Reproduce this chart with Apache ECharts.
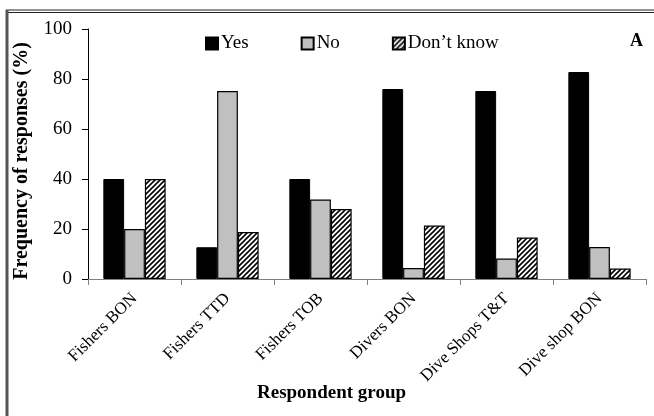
<!DOCTYPE html>
<html><head><meta charset="utf-8">
<script src="https://cdn.jsdelivr.net/npm/echarts@6/dist/echarts.min.js"></script>
<style>html,body{margin:0;padding:0;background:#fff}#c{width:654px;height:416px}</style>
</head><body><div id="c"></div>
<script>
var categories = ['Fishers BON','Fishers TTD','Fishers TOB','Divers BON','Dive Shops T&T','Dive shop BON'];
var yesValues = [40, 12.7, 40, 76, 75.2, 82.8];
var noValues = [20, 75.2, 31.8, 4.4, 8.2, 12.8];
var dkValues = [40, 18.8, 28, 21.4, 16.6, 4.2];
var yTicks = [0, 20, 40, 60, 80, 100];
var seriesNames = ['Yes','No','Don\u2019t know'];

function hatch(){
  var c = document.createElement('canvas');
  c.width = 5; c.height = 5;
  var g = c.getContext('2d');
  g.fillStyle = '#fff'; g.fillRect(0,0,5,5);
  g.strokeStyle = '#000'; g.lineWidth = 1.6;
  g.beginPath();
  g.moveTo(-1,6); g.lineTo(6,-1);
  g.moveTo(-1,1); g.lineTo(1,-1);
  g.moveTo(4,6); g.lineTo(6,4);
  g.stroke();
  return c;
}
var chart = echarts.init(document.getElementById('c'), null, {renderer:'canvas'});
var font = '"Liberation Serif","Times New Roman",serif';
chart.setOption({
  animation:false,
  textStyle:{fontFamily:font},
  title:{text:'A', left:625, top:27, textStyle:{fontFamily:font, fontSize:18, fontWeight:'bold', color:'#000'}},
  legend:{left:200, top:29, itemWidth:12, itemHeight:12, itemGap:52, icon:'rect',
    textStyle:{fontFamily:font, fontSize:19, color:'#000', padding:[0,0,0,-2]},
    data:seriesNames},
  grid:{left:88, right:8, top:29, bottom:137, containLabel:false},
  xAxis:{type:'category', data:categories,
    axisLine:{lineStyle:{color:'#808080', width:1}},
    axisTick:{show:true, length:6, lineStyle:{color:'#808080'}},
    axisLabel:{rotate:45, fontFamily:font, fontSize:17, color:'#000', margin:17, interval:0}},
  yAxis:{type:'value', min:0, max:100, interval:20,
    name:'Frequency of responses (%)', nameLocation:'middle', nameGap:56,
    nameTextStyle:{fontFamily:font, fontSize:20, fontWeight:'bold', color:'#000', padding:[0,14,0,0]},
    axisLine:{show:true, lineStyle:{color:'#000', width:1}},
    axisTick:{show:true, length:6, lineStyle:{color:'#000'}},
    splitLine:{show:false},
    axisLabel:{fontFamily:font, fontSize:19, color:'#000', margin:16}},
  series:[
    {name:seriesNames[0], type:'bar', data:yesValues, barCategoryGap:'33%', barGap:'0%',
      itemStyle:{color:'#000', borderColor:'#000', borderWidth:1}},
    {name:seriesNames[1], type:'bar', data:noValues, barGap:'0%',
      itemStyle:{color:'#c0c0c0', borderColor:'#000', borderWidth:1.2}},
    {name:seriesNames[2], type:'bar', data:dkValues, barGap:'0%',
      itemStyle:{color:{image:hatch(), repeat:'repeat'}, borderColor:'#000', borderWidth:1.2}}
  ],
  graphic:[
    {type:'line', shape:{x1:6, y1:10, x2:654, y2:10}, style:{stroke:'#222', lineWidth:1}},
    {type:'line', shape:{x1:6, y1:12.5, x2:654, y2:12.5}, style:{stroke:'#222', lineWidth:1}},
    {type:'line', shape:{x1:7, y1:10, x2:7, y2:416}, style:{stroke:'#555', lineWidth:3}},
    {type:'text', left:257, top:384, style:{text:'Respondent group', font:'bold 19px "Liberation Serif","Times New Roman",serif', fill:'#000'}}
  ]
});
</script></body></html>
